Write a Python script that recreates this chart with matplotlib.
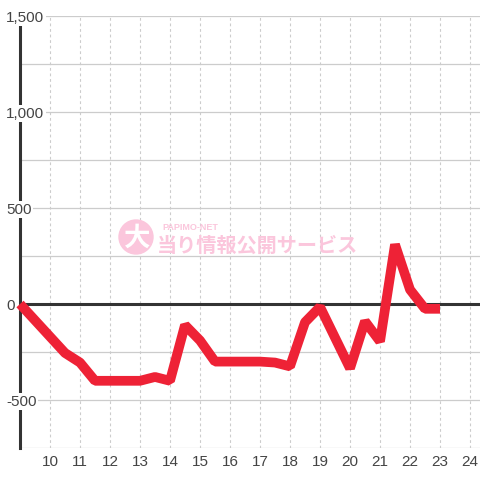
import matplotlib.pyplot as plt
from matplotlib.patches import Circle

# half-hour samples, 9:00 .. 23:00
hours = [9, 9.5, 10, 10.5, 11, 11.5, 12, 12.5, 13, 13.5, 14, 14.5, 15, 15.5,
         16, 16.5, 17, 17.5, 18, 18.5, 19, 19.5, 20, 20.5, 21, 21.5, 22, 22.5, 23]
values = [0, -85, -170, -255, -305, -400, -400, -400, -400, -380, -400, -110,
          -190, -300, -300, -300, -300, -305, -325, -95, -15, -175, -335, -90,
          -195, 310, 75, -25, -25]

x_ticks = list(range(10, 25))
y_ticks = [-500, 0, 500, 1000, 1500]
y_grid = [-750, -500, -250, 250, 500, 750, 1000, 1250, 1500]

plt.rcParams['font.family'] = ['Liberation Sans', 'DejaVu Sans']

fig = plt.figure(figsize=(4.8, 4.8), dpi=100)
ax = fig.add_axes([20 / 480, 1 - 448 / 480, 1 - 20 / 480, (448 - 16) / 480])
ax.set_xlim(9, 9 + 460 / 30)
ax.set_ylim(-750, 1500)

for s in ['top', 'right', 'bottom']:
  ax.spines[s].set_visible(False)
ax.spines['left'].set_color('#333333')
ax.spines['left'].set_linewidth(2.2)
ax.spines['left'].set_bounds(-750, 1500 - 8 * 500 / 96)

# grid
for v in y_grid:
  ax.axhline(v, color='#cccccc', lw=0.9, zorder=1)
for h in x_ticks:
  ax.axvline(h, color='#cccccc', lw=0.8, ls=(0, (2.5, 2.5)), zorder=1)
ax.axhline(0, color='#333333', lw=2.2, zorder=2)

ax.plot(hours, values, color='#ee2236', lw=7, solid_joinstyle='bevel',
        solid_capstyle='butt', zorder=6, clip_on=False)

ax.set_xticks(x_ticks)
ax.set_xticklabels([str(h) for h in x_ticks])
ax.tick_params(axis='x', length=0, pad=5, labelsize=11, labelcolor='#444444')
ax.set_yticks([])

# y labels sit left-aligned over the axis line, on a white box
for v in y_ticks:
  ax.annotate(f'{v:,}', xy=(0, v), xycoords=('axes fraction', 'data'),
              xytext=(-14 / 100 * 72, 0), textcoords='offset points',
              ha='left', va='center_baseline', fontsize=11, color='#444444',
              bbox=dict(boxstyle='square,pad=0.1', fc='white', ec='none'),
              zorder=5)

# watermark
pink = '#fbc6dc'
fig.patches.append(Circle((136 / 480, 1 - 237 / 480), 17 / 480,
                          transform=fig.transFigure, color=pink, zorder=3))
fig.text(137 / 480, 1 - 238 / 480, '大', family=['Noto Sans CJK JP'],
         fontweight='bold', fontsize=19, color='white', ha='center',
         va='center', zorder=3)
fig.text(162 / 480, 1 - 227 / 480, 'PAPIMO-NET', fontsize=6.5, color=pink,
         fontweight='bold', ha='left', va='center', zorder=3)
fig.text(157 / 480, 1 - 245 / 480, '当り情報公開サービス',
         family=['Noto Sans CJK JP'], fontweight='bold', fontsize=14.5,
         color=pink, ha='left', va='center', zorder=3)

fig.savefig('out.png', dpi=100, facecolor='white')
